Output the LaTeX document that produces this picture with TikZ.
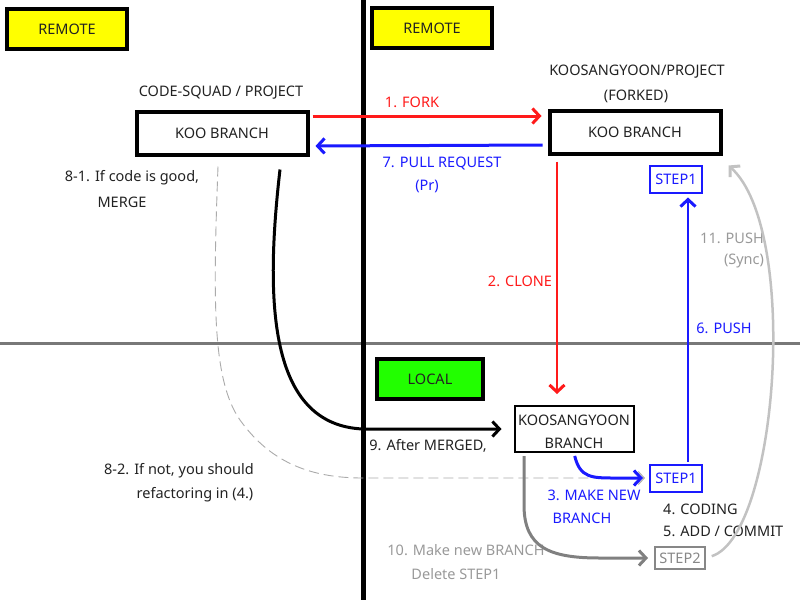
\documentclass[tikz,border=0pt]{standalone}
\usepackage{fontspec}
\setmainfont{Noto Sans}
\usetikzlibrary{arrows.meta}
\definecolor{tblack}{HTML}{222222}
\definecolor{tred}{HTML}{FF1A1A}
\definecolor{tblue}{HTML}{1A1AFF}
\definecolor{tgray}{HTML}{999999}
\definecolor{ygold}{HTML}{FFFF00}
\definecolor{lgreen}{HTML}{22FF00}
\begin{document}
\begin{tikzpicture}[x=1pt,y=-1pt,
  every node/.style={font=\fontsize{14.5}{17}\selectfont, text=tblack, inner sep=0pt},
  tagbox/.style={draw=black, line width=4pt, fill=ygold, minimum width=120pt, minimum height=40pt},
  bigbox/.style={draw=black, line width=4pt, fill=white, minimum width=171pt, minimum height=43pt},
  stepbox/.style={draw=tblue, line width=2pt, text=tblue, minimum width=52pt, minimum height=27pt},
  lbl/.style={align=center},
  barb/.style={-{Straight Barb[length=7pt,width=15pt,line width=3pt]}},
  thinbarb/.style={-{Straight Barb[length=6pt,width=13pt,line width=1pt]}}
]
\useasboundingbox (0,0) rectangle (800,600);
% separators
\draw[line width=3pt, color=black!53] (0,343) -- (800,343);
\draw[line width=5pt, black] (363,0) -- (363,600);
% tags
\node[tagbox] (rem1) at (67,29) {REMOTE};
\node[tagbox] (rem2) at (432,28) {REMOTE};
\node[tagbox, fill=lgreen, minimum width=106pt] (loc) at (430,379) {LOCAL};
% main boxes
\node[bigbox] (kooL) at (222,133) {KOO BRANCH};
\node[bigbox] (kooR) at (635,132) {KOO BRANCH};
\node[lbl] (cs) at (221,93) {CODE-SQUAD / PROJECT};
\node[lbl] (ksp) at (637,72) {KOOSANGYOON/PROJECT};
\node[lbl] (fk) at (636,96) {(FORKED)};
\node[stepbox] (s1t) at (676,179) {STEP1};
\node[draw=black, line width=2pt, minimum width=119pt, minimum height=46pt, fill=white] (ksb) at (574,429) {};
\node (ksbt1) at (574,420) {KOOSANGYOON};
\node (ksbt2) at (574,443) {BRANCH};
\node[stepbox] (s1b) at (676,478) {STEP1};
\node[stepbox, draw=black!47, text=black!47, minimum width=50pt, minimum height=22pt] (s2) at (680,558) {STEP2};
% labels
\node[text=tred] (l1) at (412,102) {1. FORK};
\node[text=tblue] (l7) at (442,163) {7. PULL REQUEST};
\node[text=tblue] (l7b) at (427,186) {(Pr)};
\node (l81) at (132,178) {8-1. If code is good,};
\node (l81b) at (122,202) {MERGE};
\node[text=tred] (l2) at (520,281) {2. CLONE};
\node[text=tgray] (l11) at (732,238) {11. PUSH};
\node[text=tgray] (l11b) at (744,261) {(Sync)};
\node[text=tblue] (l6) at (724,328) {6. PUSH};
\node (l9) at (428,446) {9. After MERGED,};
\node (l82) at (179,471) {8-2. If not, you should};
\node (l82b) at (195,495) {refactoring in (4.)};
\node[text=tblue] (l3) at (594,495) {3. MAKE NEW};
\node[text=tblue] (l3b) at (582,518) {BRANCH};
\node[anchor=west] (l4) at (663,509) {4. CODING};
\node[anchor=west] (l5) at (663,531) {5. ADD / COMMIT};
\node[text=tgray] (l10) at (466,550) {10. Make new BRANCH};
\node[text=tgray] (l10b) at (456,574) {Delete STEP1};
% connectors
\draw[barb, tred, line width=3pt, shorten <=3pt, shorten >=6pt] ([yshift=17pt]kooL.east) -- ([yshift=16pt]kooR.west);
\draw[barb, tblue, line width=3pt, shorten <=5pt, shorten >=6pt] ([yshift=-13pt]kooR.west) -- ([yshift=-13pt]kooL.east);
\draw[barb, tred, line width=2pt, shorten <=6pt, shorten >=11pt] ([xshift=-78pt]kooR.south) -- ([xshift=-78pt]kooR.south |- ksb.north);
\draw[barb, tblue, line width=2pt, shorten <=2pt, shorten >=4pt] ([xshift=12pt]s1b.north) -- ([xshift=12pt]s1t.south);
\coordinate (synctip) at ([shift={(6pt,-10pt)}]kooR.south east);
\draw[barb, black!24, line width=2.5pt, shorten <=6pt] (s2.east) .. controls (778,535) and (800,230) .. (synctip);
\draw[thinbarb, black!33, line width=0.9pt, dash pattern=on 10pt off 5pt, shorten >=4pt] ([xshift=-4pt,yshift=-10pt]kooL.south) .. controls (213,300) and (212,380) .. (240,420) .. controls (270,462) and (310,478) .. (363,478) -- (s1b.west);
\draw[barb, black, line width=3pt, shorten >=12pt] ([xshift=58pt,yshift=-13pt]kooL.south) .. controls (265,300) and (268,425) .. (363,429) -- (ksb.west);
\draw[barb, tblue, line width=3pt, shorten <=3pt, shorten >=6pt] (ksb.south) .. controls (580,478) and (592,478) .. (615,478) -- (s1b.west);
\draw[barb, black!50, line width=3pt, shorten <=3pt, shorten >=6pt] ([xshift=-50pt]ksb.south) -- (524,505) .. controls (524,548) and (550,558) .. (600,558) -- (s2.west);
\end{tikzpicture}
\end{document}
